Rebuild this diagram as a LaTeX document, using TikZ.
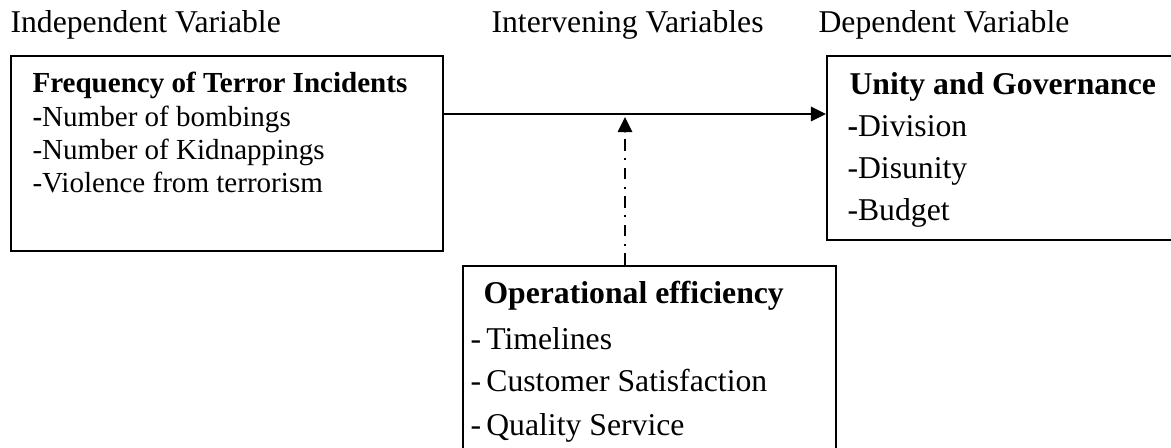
\documentclass[tikz,border=0pt]{standalone}
\usepackage{fontspec}
\setmainfont{Liberation Serif}
\usetikzlibrary{arrows.meta}

\tikzset{
    varbox/.style={draw=black, line width=0.76pt, rectangle, inner sep=0pt, anchor=north west},
    txt/.style={anchor=base west, inner sep=0pt, font=\fontsize{12}{14}\selectfont},
    link/.style={line width=0.76pt, -{Triangle[length=5.7pt,width=5.4pt]}},
    dashdot/.style={dash pattern=on 4.5pt off 2.8pt on 0.7pt off 2.8pt}
}

\begin{document}
\begin{tikzpicture}[x=0.3785pt, y=-0.3785pt]
                \useasboundingbox (0,0) rectangle (1171,448);

                % heading and column titles
                \node[txt, font=\fontsize{12}{14}\selectfont\bfseries] (title) at (0,-6) {Conceptual Framework};
                \node[txt] (indep) at (10,33) {Independent Variable};
                \node[txt] (inter) at (491,33) {Intervening Variables};
                \node[txt] (dep) at (818,33) {Dependent Variable};

                % the three boxes
                \node[varbox, minimum width=432*0.3785pt, minimum height=195*0.3785pt] (freq) at (10,55) {};
                \node[varbox, minimum width=480*0.3785pt, minimum height=184*0.3785pt] (unity) at (826,55) {};
                \node[varbox, minimum width=373*0.3785pt, minimum height=210*0.3785pt] (ops) at (462,265) {};

                \node[txt, font=\fontsize{11}{13}\selectfont\bfseries] (freqhead) at (32,93) {Frequency of Terror Incidents};
                \foreach[count=\i] \t in {\textbf{-}Number of bombings, -Number of Kidnappings, -Violence from terrorism}
                {
                    \node[txt, font=\fontsize{11}{13}\selectfont] (freq\i) at (32,93+33.3*\i) {\t};
                }

                \node[txt, font=\fontsize{12}{14}\selectfont\bfseries] (unityhead) at (849,95) {Unity and Governance};
                \foreach[count=\i] \t in {\textbf{-}Division, -Disunity, -Budget}
                {
                    \node[txt] (unity\i) at (847,95+42*\i) {\t};
                }

                \node[txt, font=\fontsize{12}{14}\selectfont\bfseries] (opshead) at (483,304) {Operational efficiency};
                \foreach[count=\i] \t in {-\kern2pt Timelines, -\kern2pt Customer Satisfaction, -\kern2pt Quality Service}
                {
                    \node[txt] (ops\i) at (470,306+43*\i) {\t};
                }

                % links between the variables
                \coordinate (cross) at (625,114);
                \coordinate (tip) at (625,117);
                \draw[link] (freq.east |- cross) -- (unity.west |- cross);
                \draw[link, dashdot] (ops.north -| tip) -- (tip);

            \end{tikzpicture}
\end{document}
